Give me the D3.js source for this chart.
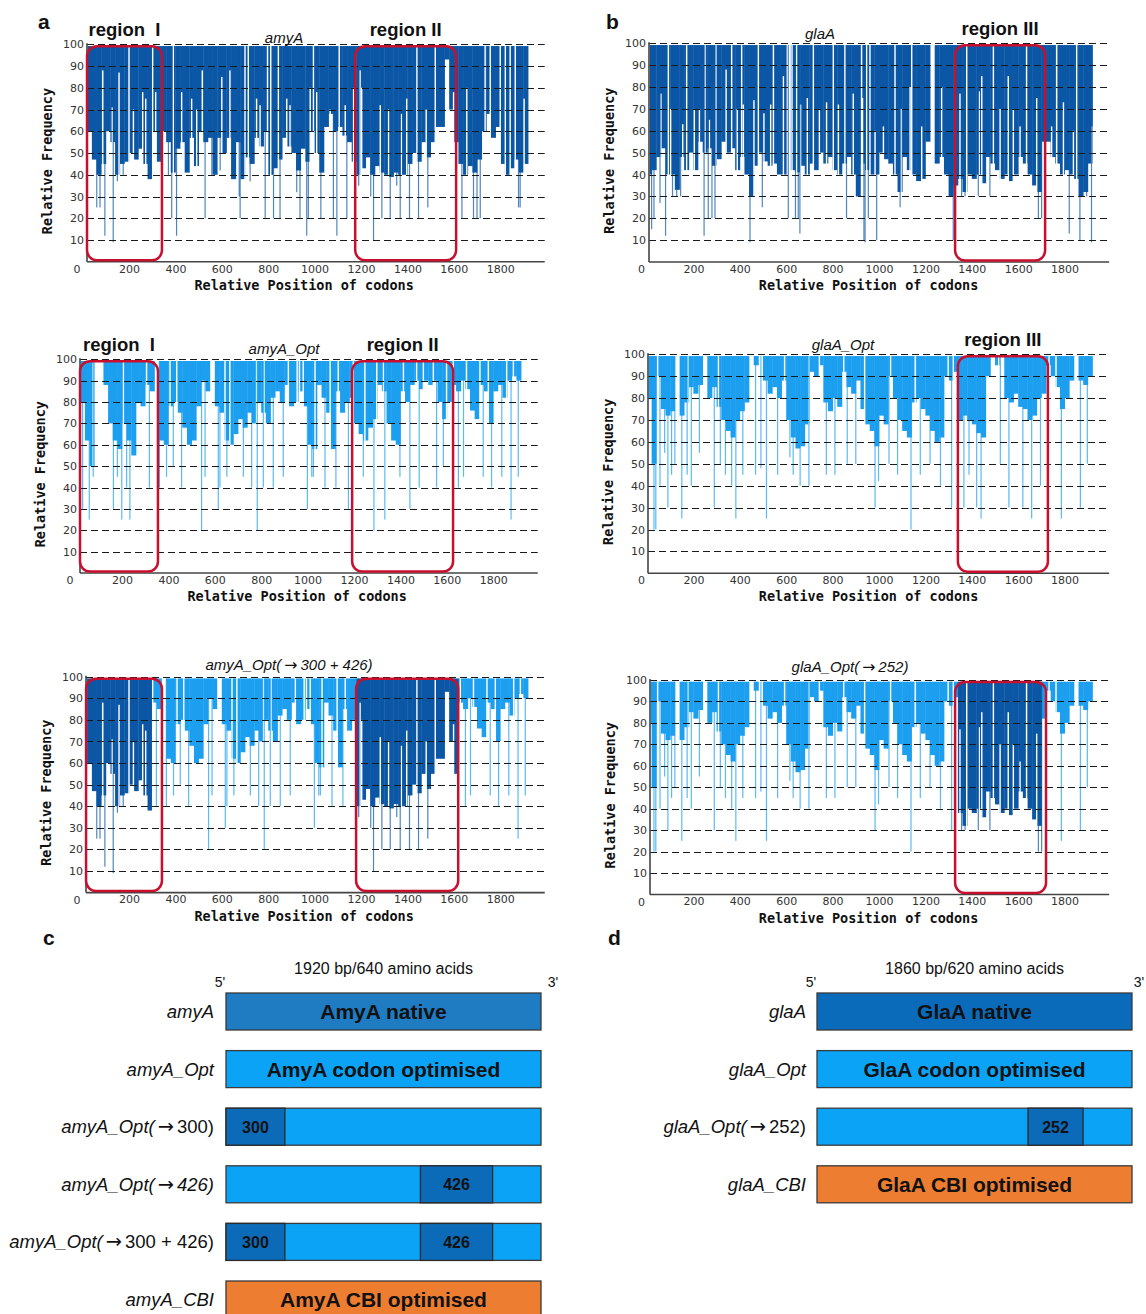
<!DOCTYPE html>
<html><head><meta charset="utf-8">
<script src="https://cdn.jsdelivr.net/npm/d3@7"></script>
<style>body{margin:0;background:#fff}svg{display:block}</style>
</head><body>
<svg id="c" width="1146" height="1314"></svg>
<script>
// ---------- DATA ----------
const BIN = 20; // nt per body bin
const xTicks = [200,400,600,800,1000,1200,1400,1600,1800];
const yTicks = [10,20,30,40,50,60,70,80,90,100];

// amyA native: body lower edge per 20-nt bin, low codons (spikes), high codons (white lines)
const amyNativeBody = [60,60,47,40,45,60,55,40,45,46, 50,47,52,45,38,60,46,60,55,41,
  52,55,41,57,44,60,55,57,40,57, 50,57,38,55,38,48,45,57,53,60,
  40,43,47,57,53,50,42,52,46,60, 50,41,62,68,60,62,58,55,46,40,
  43,48,40,44,41,40,39,41,40,40, 45,50,46,55,48,55,62,62,93,70,
  55,45,40,44,41,47,60,68,57,62, 45,40,43,47,41,45];
const amyNativeLow = [[61,25],[75,25],[96,12],[132,9],[150,37],[175,40],[370,40],[384,20],[405,12],[528,20],[557,40],[593,42],[675,30],[679,20],[722,37],[787,20],[823,20],[851,20],[923,32],[937,20],[966,12],[973,20],[1027,20],[1081,20],[1096,12],[1139,20],[1190,35],[1242,30],[1254,10],[1290,20],[1326,20],[1354,35],[1369,20],[1409,20],[1448,20],[1488,25],[1635,20],[1685,20],[1700,20],[1714,20],[1879,25],[1886,25]];
const amyNativeHigh = [[87,88],[128,71],[157,87],[200,100],[219,70],[259,78],[272,75],[302,100],[315,78],[391,100],[427,78],[470,75],[492,70],[516,88],[600,85],[635,88],[700,100],[714,100],[750,75],[765,72],[797,100],[811,100],[844,100],[880,75],[894,72],[981,80],[995,100],[1009,78],[1067,70],[1106,100],[1132,72],[1168,80],[1196,88],[1203,80],[1283,72],[1319,70],[1374,68],[1397,75],[1441,100],[1481,70],[1520,100],[1599,78],[1656,80],[1735,100],[1757,100],[1800,100],[1822,100],[1843,100],[1865,100],[1903,75]];

// amyA_Opt
const amyOptBody = [80,80,62,50,100,100,88,70,62,58, 70,62,55,80,78,88,85,100,62,60,
  78,80,75,68,60,62,78,90,85,100, 78,75,62,60,65,72,68,75,70,80,
  75,70,82,85,80,88,78,80,85,78, 60,58,88,82,75,58,85,75,80,82,
  70,65,62,68,72,88,85,70,62,60, 85,80,88,90,86,90,88,90,80,72,
  80,88,85,90,86,76,72,88,85,70, 85,88,82,90,92,90];
const amyOptLow = [[30,30],[59,25],[76,45],[163,30],[180,45],[199,25],[220,40],[234,25],[318,40],[361,40],[392,45],[421,50],[457,40],[543,20],[558,45],[615,30],[622,40],[652,45],[723,45],[759,40],[783,20],[809,40],[852,40],[895,45],[999,30],[1018,45],[1025,45],[1075,40],[1122,40],[1176,30],[1240,45],[1286,20],[1333,25],[1398,45],[1441,30],[1481,40],[1556,40],[1585,50],[1650,40],[1672,45],[1757,45],[1793,40],[1837,45],[1877,25],[1908,45]];
const amyOptHigh = [[75,100],[110,100],[206,100],[306,100],[345,100],[352,100],[407,100],[436,100],[584,100],[592,100],[644,100],[665,100],[780,100],[812,100],[917,100],[955,100],[965,100],[981,100],[1032,100],[1097,100],[1132,100],[1197,100],[1247,100],[1298,100],[1327,100],[1413,100],[1470,100],[1499,100],[1542,100],[1599,100],[1628,100],[1685,100],[1743,100],[1779,100],[1858,100],[1887,100]];

// glaA native
const glaNativeBody = [40,42,48,52,40,40,33,48,42,50, 42,55,50,52,44,47,55,50,52,42,
  48,40,30,44,50,46,44,45,40,40, 100,42,41,44,40,45,42,50,45,48,
  42,40,45,48,40,30,45,42,40,40, 50,47,45,40,32,48,42,40,37,38,
  55,100,45,48,40,30,35,38,32,40, 38,40,36,48,45,42,38,40,37,40,
  48,45,40,35,32,55,55,48,45,40, 42,40,38,30,32,45];
const glaNativeLow = [[20,15],[30,20],[56,27],[80,12],[110,30],[128,30],[145,30],[246,12],[264,20],[280,20],[293,20],[444,9],[497,25],[609,20],[640,20],[652,20],[659,13],[860,20],[904,30],[935,10],[940,9],[954,20],[990,10],[1091,25],[1320,10],[1356,30],[1371,30],[1428,30],[1478,30],[1687,20],[1701,20],[1820,13],[1866,10],[1895,30],[1916,9]];
const glaNativeHigh = [[60,77],[92,100],[102,70],[154,63],[171,100],[204,70],[226,70],[250,100],[269,65],[297,100],[341,88],[365,100],[389,70],[408,100],[415,72],[461,74],[480,100],[504,68],[533,72],[545,100],[588,85],[625,100],[645,100],[662,72],[691,75],[717,100],[743,70],[774,73],[803,100],[825,72],[853,100],[889,77],[925,100],[930,75],[947,100],[961,100],[983,60],[1019,62],[1069,100],[1095,70],[1134,80],[1141,100],[1184,62],[1270,80],[1349,77],[1378,100],[1432,78],[1443,85],[1493,100],[1522,70],[1557,85],[1579,70],[1608,62],[1636,100],[1680,75],[1744,62],[1766,100],[1795,73],[1838,60],[1852,100],[1917,62]];

// glaA_Opt
const glaOptBody = [80,50,90,75,72,74,100,72,78,85, 82,86,100,80,85,76,70,65,62,70,
  74,78,100,95,100,88,82,85,80,88, 70,62,57,58,68,92,90,95,78,74,
  80,76,92,85,82,88,75,68,65,58, 72,68,90,80,70,65,62,78,80,75,
  72,65,60,62,90,88,92,70,72,70, 68,64,62,90,100,95,100,80,78,82,
  76,75,70,72,80,82,95,90,85,75, 80,88,100,88,86,90];
const glaOptLow = [[30,20],[38,20],[56,40],[76,55],[90,30],[106,45],[120,50],[150,25],[173,45],[191,40],[226,55],[290,30],[316,50],[338,45],[365,40],[383,25],[413,45],[468,45],[491,48],[515,25],[563,45],[616,53],[630,45],[660,40],[698,40],[773,45],[810,45],[863,50],[900,50],[983,30],[998,42],[1043,50],[1080,45],[1138,20],[1178,45],[1220,50],[1265,40],[1313,30],[1366,30],[1388,45],[1421,30],[1440,25],[1523,50],[1560,30],[1620,30],[1658,25],[1696,40],[1786,25],[1868,30],[1898,50]];
const glaOptHigh = [[46,100],[125,100],[136,100],[176,100],[248,100],[308,100],[446,100],[491,100],[593,100],[698,100],[743,100],[848,100],[938,100],[1050,100],[1156,100],[1298,100],[1320,100],[1493,100],[1516,100],[1530,100],[1733,100],[1763,100],[1853,100]];

// native segments swapped into the optimised constructs (nt)
const amyNativeSwap = [[0,310],[1180,1612]];
const glaNativeSwap = [[1335,1705]];
// red "region" boxes (nt)
const amyTopRegions = [[19,342],[1175,1610]];
const amyMidRegions = [[19,355],[1192,1627]];
const amyBotRegions = [[15,342],[1179,1619]];
const glaTopRegions = [[1328,1716]];
const glaMidRegions = [[1340,1728]];
const glaBotRegions = [[1328,1720]];
const amyRegionNames = ["region  I","region II"];
const glaRegionNames = ["region III"];

// construct diagrams
const amyConstructs = ["amyA","amyA_Opt","amyA_Opt(→300)","amyA_Opt(→426)","amyA_Opt(→300 + 426)","amyA_CBI"];
const amyUpright = ["","","300)","","300 + 426)",""];
const amyKinds = ["amynative","opt","opt","opt","opt","cbi"];
const amyBarText = ["AmyA native","AmyA codon optimised","","","","AmyA CBI optimised"];
const amySegments = [[],[],[[0,359,"300"]],[[1185,1625,"426"]],[[0,359,"300"],[1185,1625,"426"]],[]];
const glaConstructs = ["glaA","glaA_Opt","glaA_Opt(→252)","glaA_CBI"];
const glaUpright = ["","","252)",""];
const glaKinds = ["glanative","opt","opt","cbi"];
const glaBarText = ["GlaA native","GlaA codon optimised","","GlaA CBI optimised"];
const glaSegments = [[],[],[[1246,1571,"252"]],[]];

// ---------- DRAW ----------
const svg = d3.select("#c");
const NATIVE = "#0c57a5", OPT = "#1d9ff0";
const SANS = "'Liberation Sans', Arial, sans-serif";
const ARROWFONT = "'DejaVu Sans', sans-serif";
const inRanges = (nt, rs) => rs.some(r => nt >= r[0] && nt < r[1]);

// write a string into a text element, rendering "→" with a font that has a full-size arrow
function richText(t, str, italic) {
  str.split(/(→)/).filter(s => s.length).forEach(s => {
    const ts = t.append("tspan").text(s);
    if (s === "→") ts.attr("font-family", ARROWFONT).attr("font-style", "normal")
      .attr("font-size", "1.05em").attr("dx", 3);
    else if (italic) ts.attr("font-style", "italic");
  });
  t.selectAll("tspan").filter(function() { const p = this.previousSibling; return p && p.textContent === "→"; })
    .attr("dx", 3);
}

function drawPanel(p) {
  const x = d3.scaleLinear().domain([0, 2000]).range([p.x0, p.x0 + 2000 * 0.232]);
  const y = d3.scaleLinear().domain([0, 100]).range([p.y0, p.y100]);
  const g = svg.append("g");
  const cid = "clip" + p.id;
  g.append("clipPath").attr("id", cid).append("rect")
    .attr("x", p.axisX + 0.8).attr("y", y(100) - 1)
    .attr("width", x(1990) - p.axisX).attr("height", p.y0 - p.y100);
  const plot = g.append("g").attr("clip-path", `url(#${cid})`);
  const keepFn = L => nt => L.only ? inRanges(nt, L.only) : (L.not ? !inRanges(nt, L.not) : true);

  p.layers.forEach(L => {
    const keep = keepFn(L);
    const bins = L.body.map((v, i) => ({nt: i * BIN, v})).filter(d => keep(d.nt + BIN / 2));
    plot.selectAll(null).data(bins).join("rect")
      .attr("x", d => x(d.nt)).attr("width", x(BIN) - x(0) + 0.4)
      .attr("y", y(99.2)).attr("height", d => Math.max(0, y(d.v) - y(99.2)))
      .attr("fill", L.color);
  });
  p.layers.forEach(L => {
    const keep = keepFn(L);
    plot.selectAll(null).data(L.high.filter(d => keep(d[0]))).join("rect")
      .attr("x", d => x(d[0]) - 0.7).attr("width", 1.4)
      .attr("y", d => y(d[1])).attr("height", d => y(0) - y(d[1]))
      .attr("fill", "#fff");
  });
  p.layers.forEach(L => {
    const keep = keepFn(L);
    plot.selectAll(null).data(L.low.filter(d => keep(d[0]))).join("rect")
      .attr("x", d => x(d[0]) - 0.6).attr("width", 1.2)
      .attr("y", y(99.2)).attr("height", d => y(d[1]) - y(99.2))
      .attr("fill", L.color).attr("fill-opacity", 0.72);
  });

  // dashed gridlines
  g.selectAll(null).data(yTicks).join("line")
    .attr("x1", p.axisX).attr("x2", x(1992))
    .attr("y1", d => Math.round(y(d)) + 0.5).attr("y2", d => Math.round(y(d)) + 0.5)
    .attr("stroke", "#1a1a1a").attr("stroke-width", 1).attr("stroke-dasharray", "7,4");

  // axis lines
  g.append("line").attr("x1", p.axisX).attr("x2", p.axisX).attr("y1", y(100) - 1).attr("y2", p.y0)
    .attr("stroke", "#444").attr("stroke-width", 1.6);
  g.append("line").attr("x1", p.axisX).attr("x2", x(1992)).attr("y1", p.y0).attr("y2", p.y0)
    .attr("stroke", "#444").attr("stroke-width", 1.6);

  // tick labels via d3 axes
  const ax = g.append("g").attr("transform", `translate(0,${p.y0})`)
    .call(d3.axisBottom(x).tickValues(xTicks).tickFormat(d3.format("d")).tickSize(0).tickPadding(3));
  const ay = g.append("g").attr("transform", `translate(${p.axisX},0)`)
    .call(d3.axisLeft(y).tickValues(yTicks).tickFormat(d3.format("d")).tickSize(0).tickPadding(3));
  [ax, ay].forEach(a => {
    a.select(".domain").remove();
    a.selectAll("text").attr("font-family", "'DejaVu Sans', Verdana, sans-serif")
      .attr("font-size", 11).attr("fill", "#333");
  });
  g.append("text").attr("x", x(0) - 5.5).attr("y", p.y0 + 11).attr("text-anchor", "middle")
    .attr("font-family", "'DejaVu Sans', Verdana, sans-serif").attr("font-size", 11).attr("fill", "#333").text("0");

  // axis titles
  g.append("text").attr("x", x(955)).attr("y", p.y0 + 28).attr("text-anchor", "middle")
    .attr("font-family", "'DejaVu Sans Mono', monospace").attr("font-weight", "bold")
    .attr("font-size", 13.5).attr("fill", "#111").text("Relative Position of codons");
  g.append("text")
    .attr("transform", `translate(${p.axisX - 40},${(p.y0 + p.y100) / 2 + 8}) rotate(-90)`)
    .attr("text-anchor", "middle").attr("dominant-baseline", "central")
    .attr("font-family", "'DejaVu Sans Mono', monospace").attr("font-weight", "bold")
    .attr("font-size", 13.5).attr("fill", "#111").text("Relative Frequency");

  // gene title
  const tt = g.append("text").attr("x", p.tx).attr("y", p.ty).attr("text-anchor", "middle")
    .attr("font-family", SANS).attr("font-size", 15).attr("fill", "#111");
  richText(tt, p.title, true);

  // red region boxes
  g.selectAll(null).data(p.regions).join("rect")
    .attr("x", d => Math.max(x(d[0]), p.axisX)).attr("width", d => x(d[1]) - Math.max(x(d[0]), p.axisX))
    .attr("y", y(100) + 2).attr("height", (p.y0 - 1.5) - (y(100) + 2))
    .attr("rx", 10).attr("fill", "none").attr("stroke", "#c8102e").attr("stroke-width", 2.5);
  if (p.regionNames) {
    g.selectAll(null).data(p.regions).join("text")
      .attr("x", d => (Math.max(x(d[0]), p.axisX) + x(d[1])) / 2).attr("y", y(100) - 8)
      .attr("text-anchor", "middle").attr("font-family", SANS).attr("font-weight", "bold")
      .attr("font-size", 18.5).attr("fill", "#111")
      .style("white-space", "pre")
      .text((d, i) => p.regionNames[i]);
  }
}

const LnAmy = {body: amyNativeBody, low: amyNativeLow, high: amyNativeHigh, color: NATIVE};
const LoAmy = {body: amyOptBody, low: amyOptLow, high: amyOptHigh, color: OPT};
const LnGla = {body: glaNativeBody, low: glaNativeLow, high: glaNativeHigh, color: NATIVE};
const LoGla = {body: glaOptBody, low: glaOptLow, high: glaOptHigh, color: OPT};

const panels = [
  {id: "a1", x0: 82.6, axisX: 87, y100: 44.3, y0: 261.8, title: "amyA", tx: 284, ty: 43,
   layers: [LnAmy], regions: amyTopRegions, regionNames: amyRegionNames},
  {id: "a2", x0: 75.6, axisX: 80, y100: 359.3, y0: 573, title: "amyA_Opt", tx: 284, ty: 354,
   layers: [LoAmy], regions: amyMidRegions, regionNames: amyRegionNames},
  {id: "a3", x0: 82.6, axisX: 86, y100: 676.7, y0: 892.6, title: "amyA_Opt(→300 + 426)", tx: 289, ty: 670,
   layers: [Object.assign({}, LoAmy, {not: amyNativeSwap}), Object.assign({}, LnAmy, {only: amyNativeSwap})],
   regions: amyBotRegions},
  {id: "b1", x0: 647, axisX: 649, y100: 43.3, y0: 262, title: "glaA", tx: 820, ty: 39,
   layers: [LnGla], regions: glaTopRegions, regionNames: glaRegionNames},
  {id: "b2", x0: 647, axisX: 648, y100: 354.3, y0: 573.3, title: "glaA_Opt", tx: 843, ty: 350,
   layers: [LoGla], regions: glaMidRegions, regionNames: glaRegionNames},
  {id: "b3", x0: 647, axisX: 650, y100: 680, y0: 894.5, title: "glaA_Opt(→252)", tx: 850, ty: 672,
   layers: [Object.assign({}, LoGla, {not: glaNativeSwap}), Object.assign({}, LnGla, {only: glaNativeSwap})],
   regions: glaBotRegions}
];
panels.forEach(drawPanel);

// panel letters
[["a", 38, 29], ["b", 606, 29], ["c", 43, 945], ["d", 608, 945]].forEach(l => {
  svg.append("text").attr("x", l[1]).attr("y", l[2]).attr("font-family", SANS)
    .attr("font-weight", "bold").attr("font-size", 21).attr("fill", "#111").text(l[0]);
});

// construct diagrams
const FILL = {amynative: "#1f7bc2", glanative: "#0b6bbb", opt: "#0ba3f6", cbi: "#ed7d31"};
function drawConstructs(c) {
  const x = d3.scaleLinear().domain([0, c.len]).range([c.x0, c.x1]);
  const n = c.names.length;
  const pad = 1 - 37 / 57.6;
  const y = d3.scaleBand().domain(c.names).range([993, 993 + 57.6 * (n - pad)]).paddingInner(pad).paddingOuter(0);
  const g = svg.append("g");
  g.append("text").attr("x", (c.x0 + c.x1) / 2).attr("y", 974).attr("text-anchor", "middle")
    .attr("font-family", SANS).attr("font-size", 16).attr("fill", "#111").text(c.header);
  g.append("text").attr("x", c.x0 - 6).attr("y", 987).attr("text-anchor", "middle")
    .attr("font-family", SANS).attr("font-size", 14).attr("fill", "#111").text("5'");
  g.append("text").attr("x", c.x1 + c.endOff).attr("y", 987).attr("text-anchor", "middle")
    .attr("font-family", SANS).attr("font-size", 14).attr("fill", "#111").text("3'");
  c.names.forEach((name, i) => {
    const yy = y(name), h = y.bandwidth(), cy = yy + h / 2;
    g.append("rect").attr("x", x(0)).attr("y", yy).attr("width", x(c.len) - x(0)).attr("height", h)
      .attr("fill", FILL[c.kinds[i]]).attr("stroke", "#3a3a3a").attr("stroke-width", 1.3);
    c.segments[i].forEach(s => {
      g.append("rect").attr("x", x(s[0])).attr("y", yy).attr("width", x(s[1]) - x(s[0])).attr("height", h)
        .attr("fill", "#0b6bb8").attr("stroke", "#2a2a2a").attr("stroke-width", 1.3);
      g.append("text").attr("x", (x(s[0]) + x(s[1])) / 2).attr("y", cy + 6).attr("text-anchor", "middle")
        .attr("font-family", SANS).attr("font-weight", "bold").attr("font-size", 16).attr("fill", "#111").text(s[2]);
    });
    if (c.barText[i]) {
      g.append("text").attr("x", (x(0) + x(c.len)) / 2).attr("y", cy + 7.5).attr("text-anchor", "middle")
        .attr("font-family", SANS).attr("font-weight", "bold").attr("font-size", 21).attr("fill", "#111")
        .text(c.barText[i]);
    }
    const up = c.upright[i];
    const it = up ? name.slice(0, name.length - up.length) : name;
    const t = g.append("text").attr("x", c.labelX).attr("y", cy + 6.5).attr("text-anchor", "end")
      .attr("font-family", SANS).attr("font-size", 18.5).attr("fill", "#111");
    richText(t, it, true);
    if (up) {
      const u = t.append("tspan").text(up);
      if (it.endsWith("→")) u.attr("dx", 3);
    }
  });
}
drawConstructs({names: amyConstructs, upright: amyUpright, kinds: amyKinds, barText: amyBarText,
  segments: amySegments, len: 1920, x0: 226, x1: 541, labelX: 214, endOff: 12, header: "1920 bp/640 amino acids"});
drawConstructs({names: glaConstructs, upright: glaUpright, kinds: glaKinds, barText: glaBarText,
  segments: glaSegments, len: 1860, x0: 817, x1: 1132, labelX: 806, endOff: 7, header: "1860 bp/620 amino acids"});
</script>
</body></html>
